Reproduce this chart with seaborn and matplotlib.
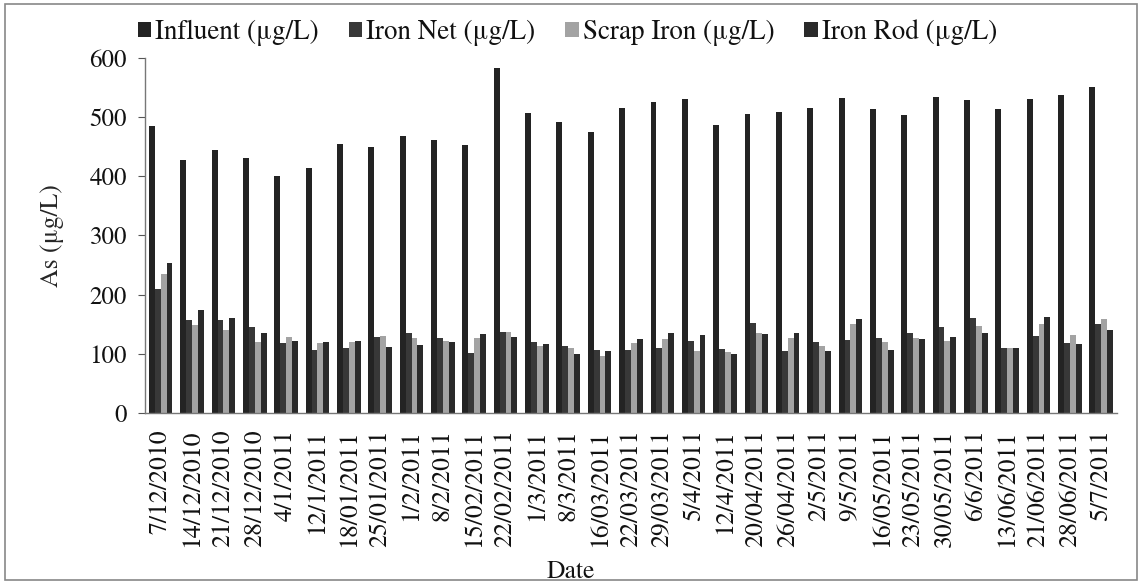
import matplotlib
matplotlib.use("Agg")
import matplotlib.pyplot as plt
import seaborn as sns
import pandas as pd
from matplotlib.patches import Rectangle, Patch

dates = ["7/12/2010", "14/12/2010", "21/12/2010", "28/12/2010", "4/1/2011",
         "12/1/2011", "18/01/2011", "25/01/2011", "1/2/2011", "8/2/2011",
         "15/02/2011", "22/02/2011", "1/3/2011", "8/3/2011", "16/03/2011",
         "22/03/2011", "29/03/2011", "5/4/2011", "12/4/2011", "20/04/2011",
         "26/04/2011", "2/5/2011", "9/5/2011", "16/05/2011", "23/05/2011",
         "30/05/2011", "6/6/2011", "13/06/2011", "21/06/2011", "28/06/2011",
         "5/7/2011"]

influent = [485, 427, 444, 430, 400, 413, 454, 450, 468, 461, 453, 583, 506,
            492, 475, 516, 526, 531, 486, 505, 508, 516, 532, 513, 504, 534,
            528, 513, 530, 538, 550]
iron_net = [210, 157, 157, 145, 118, 106, 110, 128, 135, 126, 101, 137, 120,
            113, 106, 106, 110, 121, 108, 152, 104, 120, 123, 127, 135, 145,
            160, 110, 130, 118, 150]
scrap_iron = [234, 148, 140, 120, 128, 118, 120, 130, 126, 122, 126, 137, 113,
              110, 96, 118, 125, 105, 103, 135, 126, 113, 150, 120, 126, 122,
              147, 110, 150, 131, 159]
iron_rod = [253, 174, 160, 135, 121, 120, 122, 112, 115, 120, 133, 128, 116,
            100, 104, 125, 135, 132, 100, 133, 135, 105, 158, 106, 125, 128,
            135, 110, 162, 116, 140]

series = ["Influent (μg/L)", "Iron Net (μg/L)", "Scrap Iron (μg/L)", "Iron Rod (μg/L)"]
colors = ["#232323", "#383838", "#a3a3a3", "#2a2a2a"]

frames = []
for name, vals in zip(series, [influent, iron_net, scrap_iron, iron_rod]):
    frames.append(pd.DataFrame({"Date": dates, "As": vals, "Series": name}))
df = pd.concat(frames, ignore_index=True)

sns.set_style("white")
plt.rcParams["font.family"] = ["TeX Gyre Termes", "Liberation Serif", "DejaVu Serif"]
plt.rcParams["text.color"] = "#111111"

fig = plt.figure(figsize=(11.42, 5.84), dpi=100)
ax = fig.add_axes([0.127, 0.293, 0.851, 0.608])

sns.barplot(data=df, x="Date", y="As", hue="Series", order=dates,
            hue_order=series, palette=colors, saturation=1, width=0.75,
            errorbar=None, ax=ax, legend=False, edgecolor="none")

ax.set_ylim(0, 600)
ax.set_yticks(range(0, 601, 100))
ax.set_xlim(-0.5, len(dates) - 0.5)
ax.tick_params(axis="y", labelsize=18, length=5, direction="out", left=True,
               color="#555555", pad=8, labelcolor="#111111")
ax.tick_params(axis="x", labelsize=18.5, rotation=90, length=0, pad=12,
               labelcolor="#111111")
for lbl in ax.get_xticklabels():
    lbl.set_va("top")

ax.set_ylabel("As (μg/L)", fontsize=18.5, labelpad=18)
ax.set_xlabel("")
fig.text(0.5, 0.021, "Date", ha="center", va="center", fontsize=18.5)

for side in ["top", "right"]:
    ax.spines[side].set_visible(False)
for side in ["left", "bottom"]:
    ax.spines[side].set_color("#777777")
    ax.spines[side].set_linewidth(1.0)

handles = [Patch(facecolor=c, edgecolor="none") for c in colors]
fig.legend(handles, series, loc="upper center", bbox_to_anchor=(0.497, 1.008),
           ncol=4, frameon=False, fontsize=19.5, handlelength=0.5,
           handleheight=0.5, handletextpad=0.15, columnspacing=1.1)

fig.patches.append(Rectangle((0.004, 0.006), 0.992, 0.988, transform=fig.transFigure,
                             fill=False, edgecolor="#888888", linewidth=1.2))

fig.savefig("out.png", dpi=100, facecolor="white")
